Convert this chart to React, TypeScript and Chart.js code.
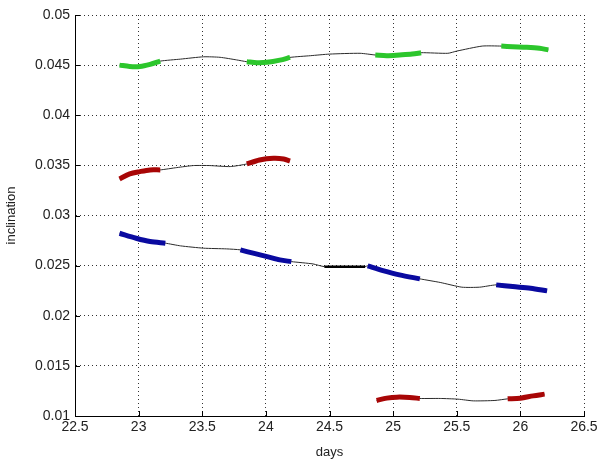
import React, { useEffect, useRef } from "react";
import { Chart, registerables } from "chart.js";

Chart.register(...registerables);

// ---- axis ticks ----
const xTicks = [22.5, 23, 23.5, 24, 24.5, 25, 25.5, 26, 26.5];
const xTickLabels = ["22.5", "23", "23.5", "24", "24.5", "25", "25.5", "26", "26.5"];
const yTicks = [0.01, 0.015, 0.02, 0.025, 0.03, 0.035, 0.04, 0.045, 0.05];
const yTickLabels = ["0.01", "0.015", "0.02", "0.025", "0.03", "0.035", "0.04", "0.045", "0.05"];

// ---- green track ----
const greenDays = [22.85, 22.93, 23.01, 23.09, 23.17, 23.33, 23.51, 23.64, 23.77, 23.85, 23.93, 24.01, 24.11, 24.19, 24.35, 24.5, 24.74, 24.86, 24.95, 25.05, 25.15, 25.22, 25.43, 25.5, 25.7, 25.85, 25.94, 26.05, 26.15, 26.22];
const greenIncl = [0.045, 0.04487, 0.04487, 0.04508, 0.0454, 0.0456, 0.04583, 0.04578, 0.04552, 0.04534, 0.04524, 0.04528, 0.0455, 0.04577, 0.04594, 0.0461, 0.04618, 0.04601, 0.04594, 0.04601, 0.0461, 0.04624, 0.04618, 0.0464, 0.0469, 0.0469, 0.04684, 0.04678, 0.04668, 0.04652];
const greenSegments = [[0, 4], [9, 13], [17, 21], [25, 29]];

// ---- upper red track ----
const redUpDays = [22.85, 22.93, 23.01, 23.09, 23.17, 23.3, 23.43, 23.56, 23.72, 23.85, 23.95, 24.06, 24.14, 24.19];
const redUpIncl = [0.03365, 0.03415, 0.03438, 0.03455, 0.03455, 0.03478, 0.03498, 0.03498, 0.03488, 0.03514, 0.03554, 0.03571, 0.03564, 0.03544];
const redUpSegments = [[0, 4], [9, 13]];

// ---- blue track ----
const blueDays = [22.85, 22.98, 23.09, 23.21, 23.33, 23.51, 23.69, 23.8, 23.9, 24.01, 24.11, 24.2, 24.37, 24.46, 24.78, 24.8, 24.92, 25.05, 25.21, 25.37, 25.54, 25.68, 25.81, 25.94, 26.08, 26.21];
const blueIncl = [0.02823, 0.02773, 0.0274, 0.02724, 0.02697, 0.02674, 0.02667, 0.02657, 0.02624, 0.0259, 0.02557, 0.0254, 0.02517, 0.0249, 0.0249, 0.02498, 0.02451, 0.02408, 0.02368, 0.02332, 0.02285, 0.02285, 0.02308, 0.02291, 0.02275, 0.02248];
const blueSegments = [[0, 3], [7, 11], [15, 18], [22, 25]];
const blueBlackSegments = [[13, 14]];

// ---- lower red track ----
const redLowDays = [24.87, 24.95, 25.03, 25.13, 25.21, 25.37, 25.51, 25.63, 25.8, 25.9, 26.0, 26.1, 26.19];
const redLowIncl = [0.01155, 0.01178, 0.01188, 0.01185, 0.01175, 0.01175, 0.01168, 0.01151, 0.01155, 0.01171, 0.01178, 0.01201, 0.01218];
const redLowSegments = [[0, 4], [9, 12]];

const GREEN = "#2cc62c";
const RED = "#a80606";
const BLUE = "#0a0aa0";
const LINE = "#2a2a2a";

function pts(days: number[], vals: number[]) {
  return days.map((d, i) => ({ x: d, y: vals[i] }));
}

function trackDatasets(days: number[], vals: number[], segs: number[][], color: string, width: number) {
  const out: any[] = [];
  out.push({
    data: pts(days, vals),
    borderColor: LINE,
    borderWidth: 1,
    pointRadius: 0,
    tension: 0.2,
    order: 2,
  });
  segs.forEach(([a, b]) => {
    out.push({
      data: pts(days.slice(a, b + 1), vals.slice(a, b + 1)),
      borderColor: color,
      borderWidth: width,
      pointRadius: 0,
      tension: 0.3,
      borderCapStyle: "butt",
      order: 0,
    });
  });
  return out;
}

const innerTicks = {
  id: "innerTicks",
  afterDraw(chart: any) {
    const { ctx, chartArea, scales } = chart;
    ctx.save();
    ctx.strokeStyle = "#000";
    ctx.lineWidth = 1;
    scales.x.ticks.forEach((t: any) => {
      const px = Math.round(scales.x.getPixelForValue(t.value)) + 0.5;
      ctx.beginPath();
      ctx.moveTo(px, chartArea.bottom);
      ctx.lineTo(px, chartArea.bottom - 5);
      ctx.stroke();
    });
    scales.y.ticks.forEach((t: any) => {
      const py = Math.round(scales.y.getPixelForValue(t.value)) + 0.5;
      ctx.beginPath();
      ctx.moveTo(chartArea.left, py);
      ctx.lineTo(chartArea.left + 5, py);
      ctx.stroke();
    });
    ctx.restore();
  },
};

export default function App() {
  const ref = useRef<HTMLCanvasElement | null>(null);

  useEffect(() => {
    if (!ref.current) return;
    const datasets = [
      ...trackDatasets(greenDays, greenIncl, greenSegments, GREEN, 5),
      ...trackDatasets(redUpDays, redUpIncl, redUpSegments, RED, 5),
      ...trackDatasets(blueDays, blueIncl, blueSegments, BLUE, 5),
      ...trackDatasets(redLowDays, redLowIncl, redLowSegments, RED, 5),
      ...blueBlackSegments.map(([a, b]) => ({
        data: pts(blueDays.slice(a, b + 1), blueIncl.slice(a, b + 1)),
        borderColor: "#000",
        borderWidth: 2.5,
        pointRadius: 0,
        order: 1,
      })),
    ];
    const tickFont = { family: "'Liberation Sans', Arial, sans-serif", size: 14 };
    const titleFont = { family: "'Liberation Sans', Arial, sans-serif", size: 13 };
    const chart = new Chart(ref.current, {
      type: "line",
      data: { datasets },
      options: {
        animation: false,
        responsive: false,
        maintainAspectRatio: false,
        layout: { padding: { left: 0, right: 18, top: 15, bottom: 0 } },
        plugins: { legend: { display: false }, tooltip: { enabled: false } },
        scales: {
          x: {
            type: "linear",
            min: 22.5,
            max: 26.5,
            afterBuildTicks: (s: any) => {
              s.ticks = xTicks.map((v) => ({ value: v }));
            },
            afterFit: (s: any) => {
              s.height = 44;
            },
            ticks: {
              font: tickFont,
              color: "#222",
              padding: 3,
              maxRotation: 0,
              autoSkip: false,
              callback: (v: any) => {
                const i = xTicks.findIndex((t) => Math.abs(t - Number(v)) < 1e-9);
                return i >= 0 ? xTickLabels[i] : "";
              },
            },
            grid: { color: "#333", lineWidth: 1, drawTicks: false },
            border: { display: true, color: "#000", width: 1, dash: [1, 3] },
            title: { display: true, text: "days", font: titleFont, color: "#222", padding: { top: 0, bottom: 0 } },
          },
          y: {
            type: "linear",
            min: 0.01,
            max: 0.05,
            afterBuildTicks: (s: any) => {
              s.ticks = yTicks.map((v) => ({ value: v }));
            },
            afterFit: (s: any) => {
              s.width = 75;
            },
            ticks: {
              font: tickFont,
              color: "#222",
              padding: 5,
              autoSkip: false,
              callback: (v: any) => {
                const i = yTicks.findIndex((t) => Math.abs(t - Number(v)) < 1e-9);
                return i >= 0 ? yTickLabels[i] : "";
              },
            },
            grid: { color: "#333", lineWidth: 1, drawTicks: false },
            border: { display: true, color: "#000", width: 1, dash: [1, 3] },
            title: { display: true, text: "inclination", font: titleFont, color: "#222", padding: { top: 4, bottom: 0 } },
          },
        },
      },
      plugins: [innerTicks],
    } as any);
    return () => chart.destroy();
  }, []);

  return (
    <div style={{ position: "absolute", left: 0, top: 0, width: 602, height: 460, background: "#fff" }}>
      <canvas ref={ref} width={602} height={460} style={{ display: "block" }} />
    </div>
  );
}
